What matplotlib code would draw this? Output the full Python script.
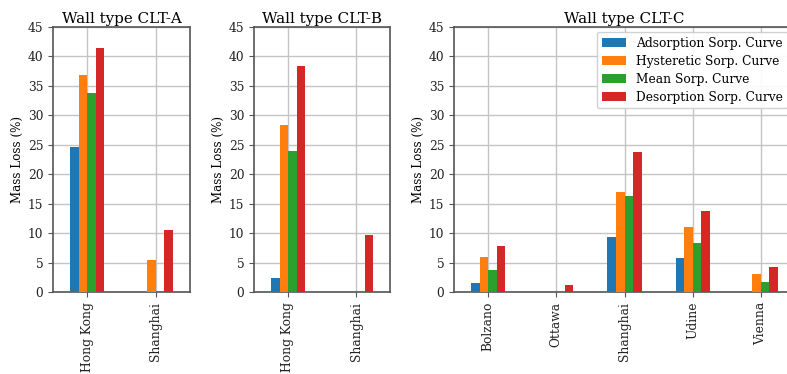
import matplotlib
matplotlib.use("Agg")
import matplotlib.pyplot as plt
import numpy as np
import pandas as pd

plt.rcParams["font.family"] = "DejaVu Serif"

curves = ["Adsorption Sorp. Curve", "Hysteretic Sorp. Curve",
          "Mean Sorp. Curve", "Desorption Sorp. Curve"]
colors = ["#1f77b4", "#ff7f0e", "#2ca02c", "#d62728"]

cities_a = ["Hong Kong", "Shanghai"]
loss_a = {
    "Adsorption Sorp. Curve": [24.6, 0.0],
    "Hysteretic Sorp. Curve": [36.8, 5.5],
    "Mean Sorp. Curve": [33.8, 0.0],
    "Desorption Sorp. Curve": [41.5, 10.5],
}

cities_b = ["Hong Kong", "Shanghai"]
loss_b = {
    "Adsorption Sorp. Curve": [2.4, 0.0],
    "Hysteretic Sorp. Curve": [28.4, 0.0],
    "Mean Sorp. Curve": [23.9, 0.0],
    "Desorption Sorp. Curve": [38.3, 9.7],
}

cities_c = ["Bolzano", "Ottawa", "Shanghai", "Udine", "Vienna"]
loss_c = {
    "Adsorption Sorp. Curve": [1.6, 0.0, 9.3, 5.8, 0.0],
    "Hysteretic Sorp. Curve": [6.0, 0.0, 17.0, 11.0, 3.1],
    "Mean Sorp. Curve": [3.7, 0.0, 16.3, 8.3, 1.7],
    "Desorption Sorp. Curve": [7.8, 1.2, 23.8, 13.8, 4.3],
}

W, H = 787, 374
fig = plt.figure(figsize=(W / 100, H / 100), dpi=100)


def px_axes(x0, x1, y0=27, y1=292):
    return fig.add_axes([x0 / W, 1 - y1 / H, (x1 - x0) / W, (y1 - y0) / H])


panels = [
    ("Wall type CLT-A", cities_a, loss_a, px_axes(53, 190)),
    ("Wall type CLT-B", cities_b, loss_b, px_axes(254, 390)),
    ("Wall type CLT-C", cities_c, loss_c, px_axes(454, 795)),
]

for title, cities, loss, ax in panels:
    df = pd.DataFrame(loss, index=cities)[curves]
    df.plot.bar(ax=ax, color=colors, width=0.5, legend=False, zorder=3)
    ax.set_axisbelow(True)
    ax.grid(True, color="#c4c4c4", lw=1.0)
    ax.set_ylim(0, 45)
    ax.set_yticks(np.arange(0, 46, 5))
    ax.set_title(title, fontsize=10.9, pad=3)
    ax.set_ylabel("Mass Loss (%)", fontsize=8.6, labelpad=3)
    ax.tick_params(labelsize=8.8, length=3.5, color="#555555",
                   labelcolor="#222222")
    for sp in ax.spines.values():
        sp.set_color("#555555")
        sp.set_linewidth(1.2)

# legend only on the last panel, tucked into the upper right corner
ax_c = panels[2][3]
ax_c.legend(loc="upper left", bbox_to_anchor=(0.419, 0.981), fontsize=8.8,
            framealpha=0.9, edgecolor="#cccccc", handlelength=2.0,
            borderpad=0.4, labelspacing=0.4, handletextpad=0.8,
            borderaxespad=0)

fig.savefig("out.png", dpi=100)
